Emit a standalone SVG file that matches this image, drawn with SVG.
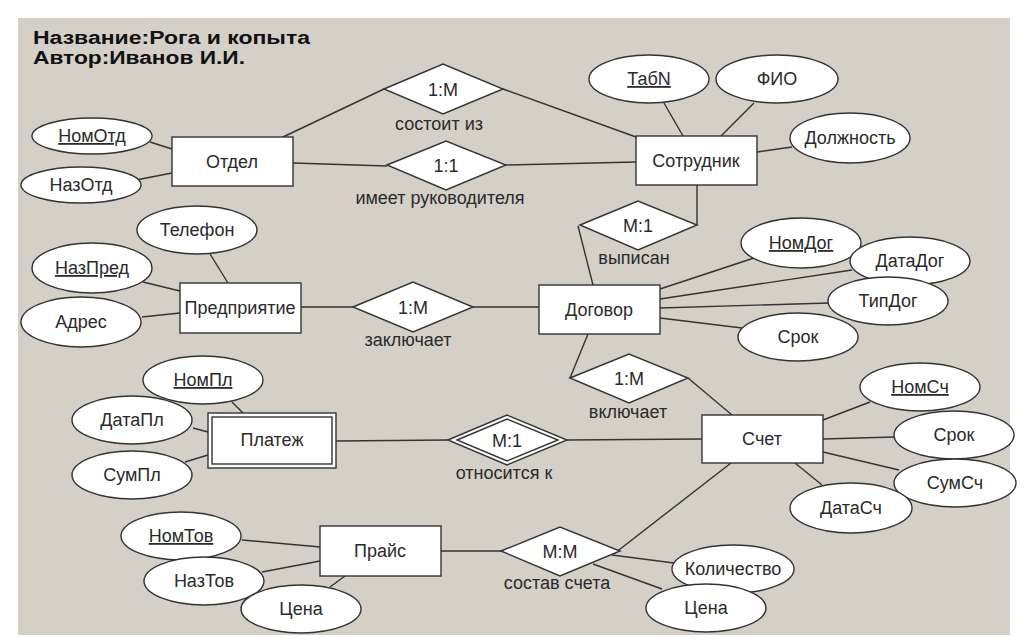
<svg xmlns="http://www.w3.org/2000/svg" width="1024" height="639" viewBox="0 0 1024 639">
<style>
text{font-family:"Liberation Sans",Arial,sans-serif;font-size:18px;fill:#2a2a2a;text-anchor:middle}
.t{font-weight:bold;font-size:18px;text-anchor:start;fill:#111}
.u{text-decoration:underline}
rect,ellipse,polygon{fill:#fff;stroke:#333;stroke-width:1.4}
line{stroke:#333;stroke-width:1.4}
</style>
<rect x="0" y="0" width="1024" height="639" style="fill:#fff;stroke:none"/>
<rect x="18" y="18" width="992" height="617" style="fill:#d4d0c8;stroke:none"/>
<g id="title">
<text class="t" x="33" y="44" textLength="277" lengthAdjust="spacingAndGlyphs">Название:Рога и копыта</text>
<text class="t" x="33" y="64" textLength="212" lengthAdjust="spacingAndGlyphs">Автор:Иванов И.И.</text>
</g>
<g id="connectors">
<line x1="283" y1="137" x2="384" y2="89"/>
<line x1="503" y1="89" x2="636" y2="137"/>
<line x1="293" y1="163" x2="387" y2="166"/>
<line x1="506" y1="165" x2="636" y2="162"/>
<line x1="697" y1="185" x2="697" y2="225"/>
<line x1="578" y1="226" x2="593" y2="285"/>
<line x1="301" y1="307" x2="353" y2="307"/>
<line x1="473" y1="307" x2="539" y2="307"/>
<line x1="588" y1="334" x2="570" y2="378"/>
<line x1="688" y1="378" x2="732" y2="415"/>
<line x1="336" y1="441" x2="448" y2="440"/>
<line x1="567" y1="440" x2="702" y2="439"/>
<line x1="441" y1="551" x2="501" y2="551"/>
<line x1="615" y1="553" x2="731" y2="463"/>
<line x1="612" y1="555" x2="674" y2="563"/>
<line x1="593" y1="564" x2="662" y2="589"/>
<line x1="150" y1="142" x2="172" y2="149"/>
<line x1="136" y1="180" x2="172" y2="173"/>
<line x1="664" y1="103" x2="683" y2="136"/>
<line x1="754" y1="103" x2="721" y2="136"/>
<line x1="792" y1="147" x2="757" y2="152"/>
<line x1="210" y1="254" x2="228" y2="283"/>
<line x1="143" y1="282" x2="180" y2="291"/>
<line x1="142" y1="317" x2="180" y2="313"/>
<line x1="754" y1="258" x2="660" y2="289"/>
<line x1="852" y1="270" x2="660" y2="299"/>
<line x1="829" y1="303" x2="660" y2="308"/>
<line x1="742" y1="328" x2="660" y2="318"/>
<line x1="870" y1="402" x2="823" y2="420"/>
<line x1="894" y1="437" x2="823" y2="439"/>
<line x1="899" y1="470" x2="823" y2="452"/>
<line x1="822" y1="485" x2="795" y2="463"/>
<line x1="232" y1="402" x2="243" y2="413"/>
<line x1="193" y1="428" x2="208" y2="432"/>
<line x1="185" y1="462" x2="208" y2="455"/>
<line x1="242" y1="540" x2="320" y2="547"/>
<line x1="262" y1="572" x2="320" y2="561"/>
<line x1="330" y1="587" x2="345" y2="576"/>
</g>
<g id="otdel"><rect x="172" y="137" width="121" height="49"/><text x="232" y="168">Отдел</text></g>
<g id="sotrudnik"><rect x="636" y="136" width="121" height="49"/><text x="696" y="167">Сотрудник</text></g>
<g id="predpriyatie"><rect x="180" y="283" width="121" height="50"/><text x="240" y="314">Предприятие</text></g>
<g id="dogovor"><rect x="539" y="285" width="121" height="49"/><text x="599" y="316">Договор</text></g>
<g id="platezh"><rect x="208" y="413" width="128" height="55"/><rect x="212" y="417" width="120" height="47"/><text x="272" y="446">Платеж</text></g>
<g id="schet"><rect x="702" y="415" width="121" height="48"/><text x="762" y="445">Счет</text></g>
<g id="prais"><rect x="320" y="526" width="121" height="50"/><text x="380" y="557">Прайс</text></g>
<g id="r-sostoit"><polygon points="384,89 443,64 503,89 443,114"/><text x="443" y="96">1:M</text><text x="439" y="130">состоит из</text></g>
<g id="r-imeet"><polygon points="387,165 446,141 506,165 446,190"/><text x="446" y="172">1:1</text><text x="440" y="204">имеет руководителя</text></g>
<g id="r-vypisan"><polygon points="580,225 638,201 697,225 638,250"/><text x="638" y="232">M:1</text><text x="634" y="264">выписан</text></g>
<g id="r-zaklyuchaet"><polygon points="353,307 413,282 473,307 413,332"/><text x="413" y="314">1:M</text><text x="408" y="346">заключает</text></g>
<g id="r-vklyuchaet"><polygon points="570,378 629,354 688,378 629,403"/><text x="629" y="385">1:M</text><text x="628" y="418">включает</text></g>
<g id="r-otnositsya"><polygon points="448,440 507,415 567,440 507,465"/><polygon points="457,440 507,419 558,440 507,461"/><text x="507" y="447">M:1</text><text x="504" y="479">относится к</text></g>
<g id="r-sostav"><polygon points="501,551 560,527 620,551 560,576"/><text x="560" y="558">M:M</text><text x="557" y="589">состав счета</text></g>
<g id="a-nomotd"><ellipse cx="92" cy="136" rx="60" ry="18"/><text class="u" x="92" y="142">НомОтд</text></g>
<g id="a-nazotd"><ellipse cx="81" cy="185" rx="60" ry="18"/><text x="81" y="191">НазОтд</text></g>
<g id="a-tabn"><ellipse cx="649" cy="79" rx="60" ry="24"/><text class="u" x="649" y="85">ТабN</text></g>
<g id="a-fio"><ellipse cx="777" cy="79" rx="61" ry="24"/><text x="777" y="85">ФИО</text></g>
<g id="a-dolzhnost"><ellipse cx="850" cy="138" rx="60" ry="25"/><text x="850" y="144">Должность</text></g>
<g id="a-telefon"><ellipse cx="197" cy="230" rx="60" ry="24"/><text x="197" y="236">Телефон</text></g>
<g id="a-nazpred"><ellipse cx="92" cy="268" rx="60" ry="25"/><text class="u" x="92" y="274">НазПред</text></g>
<g id="a-adres"><ellipse cx="81" cy="322" rx="60" ry="25"/><text x="81" y="328">Адрес</text></g>
<g id="a-nomdog"><ellipse cx="801" cy="243" rx="60" ry="25"/><text class="u" x="801" y="249">НомДог</text></g>
<g id="a-datadog"><ellipse cx="910" cy="261" rx="60" ry="24"/><text x="910" y="267">ДатаДог</text></g>
<g id="a-tipdog"><ellipse cx="888" cy="301" rx="60" ry="24"/><text x="888" y="307">ТипДог</text></g>
<g id="a-srokdog"><ellipse cx="798" cy="337" rx="60" ry="24"/><text x="798" y="343">Срок</text></g>
<g id="a-nomsch"><ellipse cx="920" cy="387" rx="60" ry="24"/><text class="u" x="920" y="393">НомСч</text></g>
<g id="a-sroksch"><ellipse cx="954" cy="435" rx="60" ry="24"/><text x="954" y="441">Срок</text></g>
<g id="a-sumsch"><ellipse cx="955" cy="483" rx="61" ry="24"/><text x="955" y="489">СумСч</text></g>
<g id="a-datasch"><ellipse cx="851" cy="508" rx="61" ry="25"/><text x="851" y="514">ДатаСч</text></g>
<g id="a-nompl"><ellipse cx="203" cy="380" rx="60" ry="24"/><text class="u" x="203" y="386">НомПл</text></g>
<g id="a-datapl"><ellipse cx="132" cy="420" rx="60" ry="24"/><text x="132" y="426">ДатаПл</text></g>
<g id="a-sumpl"><ellipse cx="132" cy="475" rx="60" ry="24"/><text x="132" y="481">СумПл</text></g>
<g id="a-nomtov"><ellipse cx="181" cy="536" rx="60" ry="24"/><text class="u" x="181" y="542">НомТов</text></g>
<g id="a-naztov"><ellipse cx="204" cy="581" rx="60" ry="24"/><text x="204" y="587">НазТов</text></g>
<g id="a-cena1"><ellipse cx="301" cy="609" rx="60" ry="24"/><text x="301" y="615">Цена</text></g>
<g id="a-kolichestvo"><ellipse cx="733" cy="569" rx="61" ry="24"/><text x="733" y="575">Количество</text></g>
<g id="a-cena2"><ellipse cx="706" cy="608" rx="60" ry="24"/><text x="706" y="614">Цена</text></g>
</svg>
